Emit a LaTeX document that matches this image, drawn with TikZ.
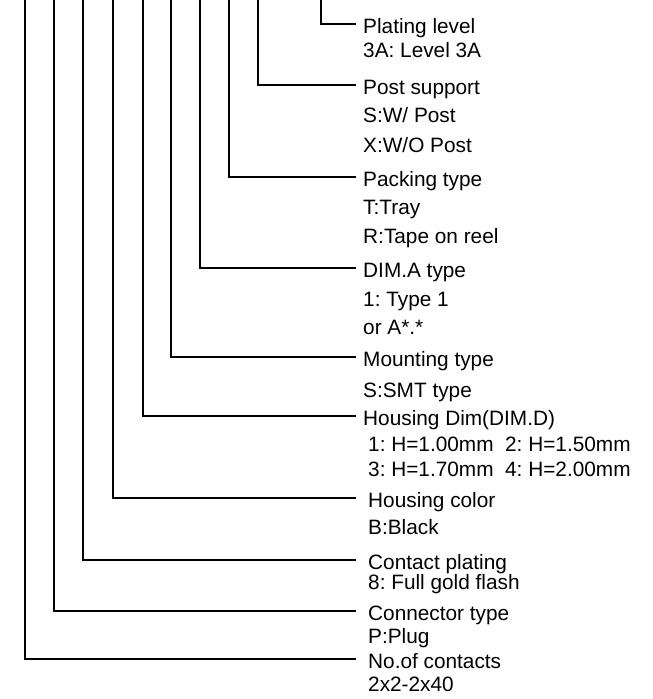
\documentclass[tikz,border=0pt]{standalone}
\usepackage{fontspec}
\setmainfont{Liberation Sans}
\frenchspacing
\begin{document}
\begin{tikzpicture}[x=1pt,y=-1pt,
  lead/.style={line width=1.2pt},
  lbl/.style={anchor=west,inner ysep=0pt,text height=19pt,text depth=0pt,
    font=\fontsize{20.8}{24}\selectfont\frenchspacing},
  up/.style={lbl,inner xsep=7pt},
  lo/.style={lbl,inner xsep=12pt}]
\useasboundingbox (0,0) rectangle (653,699);
% top ends of the leads
\coordinate (s1) at (321,-1);
\coordinate (s2) at (258,-1);
\coordinate (s3) at (229,-1);
\coordinate (s4) at (200,-1);
\coordinate (s5) at (171,-1);
\coordinate (s6) at (143,-1);
\coordinate (s7) at (113,-1);
\coordinate (s8) at (83,-1);
\coordinate (s9) at (54,-1);
\coordinate (s10) at (25,-1);
% titles
\node[up] (t1) at (356,24) {Plating level};
\node[up] (t2) at (356,85) {Post support};
\node[up] (t3) at (356,177) {Packing type};
\node[up] (t4) at (356,268) {DIM.A type};
\node[up] (t5) at (356,357) {Mounting type};
\node[up] (t6) at (356,416) {Housing Dim(DIM.D)};
\node[lo] (t7) at (356,498) {Housing color};
\node[lo] (t8) at (356,560) {Contact plating};
\node[lo] (t9) at (356,611) {Connector type};
\node[lo] (t10) at (356,659) {No.of contacts};
% options
\node[up] (o1a) at (356,47.5) {3A: Level 3A};
\node[up] (o2a) at (356,113) {S:W/ Post};
\node[up] (o2b) at (356,142.5) {X:W/O Post};
\node[up] (o3a) at (356,204.5) {T:Tray};
\node[up] (o3b) at (356,233.5) {R:Tape on reel};
\node[up] (o4a) at (356,296.5) {1: Type 1};
\node[up] (o4b) at (356,325) {or A*.*};
\node[up] (o5a) at (356,388) {S:SMT type};
\node[lo] (o6a) at (356,442) {1: H=1.00mm\ \ 2: H=1.50mm};
\node[lo] (o6b) at (356,467) {3: H=1.70mm\ \ 4: H=2.00mm};
\node[lo] (o7a) at (356,525) {B:Black};
\node[lo] (o8a) at (356,580) {8: Full gold flash};
\node[lo] (o9a) at (356,633.5) {P:Plug};
\node[lo] (o10a) at (356,682) {2x2-2x40};
% leads
\foreach \i in {1,...,10}{
  \draw[lead] (s\i) |- (t\i.west);
}
\end{tikzpicture}
\end{document}
